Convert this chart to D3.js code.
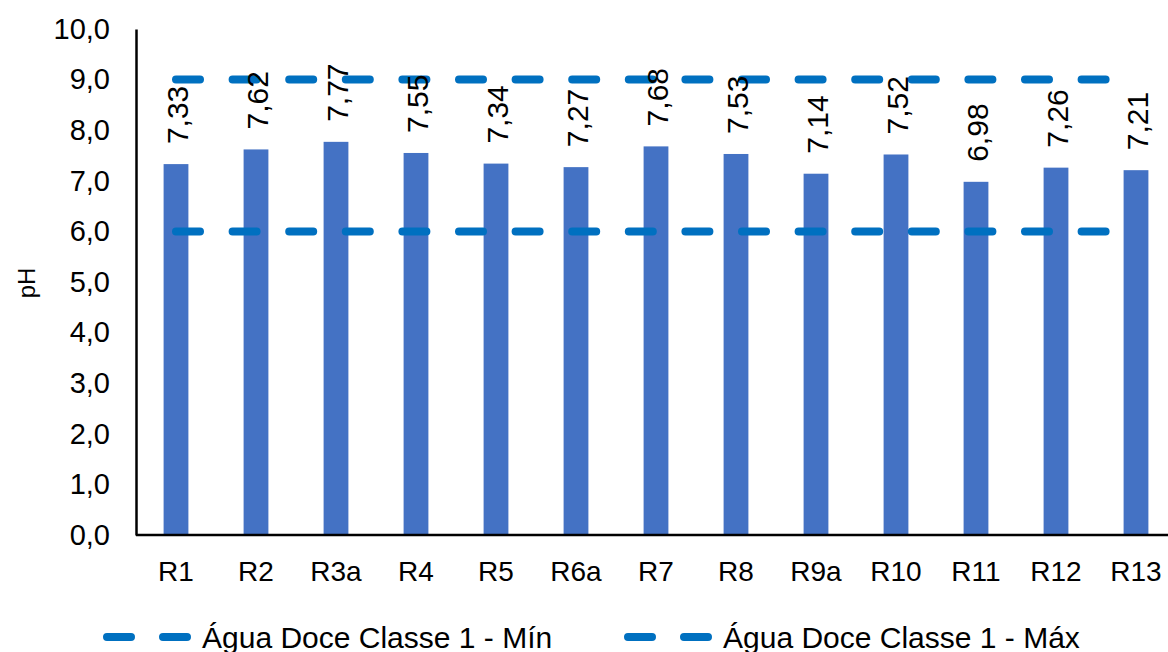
<!DOCTYPE html>
<html>
<head>
<meta charset="utf-8">
<script src="https://cdn.jsdelivr.net/npm/d3@7"></script>
<style>
    body { margin: 0; background: #fff; }
    text { font-family: "Liberation Sans", Arial, sans-serif; fill: #000; }
</style>
</head>
<body>
<div id="chart"></div>
<script>
var categories = ["R1", "R2", "R3a", "R4", "R5", "R6a", "R7", "R8", "R9a", "R10", "R11", "R12", "R13"];
var phValues = [7.33, 7.62, 7.77, 7.55, 7.34, 7.27, 7.68, 7.53, 7.14, 7.52, 6.98, 7.26, 7.21];
var limitMin = [6, 6, 6, 6, 6, 6, 6, 6, 6, 6, 6, 6, 6];
var limitMax = [9, 9, 9, 9, 9, 9, 9, 9, 9, 9, 9, 9, 9];
var yTicks = [0, 1, 2, 3, 4, 5, 6, 7, 8, 9, 10];
var legendLabels = ["Água Doce Classe 1 - Mín", "Água Doce Classe 1 - Máx"];

function init() {
    var w = 1168, h = 652;
    var left = 136, top = 29, bottom = 535;

    var svg = d3.select("#chart").append("svg")
        .attr("width", w)
        .attr("height", h);

    var xScale = d3.scaleBand()
        .domain(categories)
        .range([left, left + 80 * categories.length])
        .paddingInner(0.69)
        .paddingOuter(0.345);

    var yScale = d3.scaleLinear()
        .domain([0, 10])
        .range([bottom, top]);

    var fmt = function(v, d) { return v.toFixed(d).replace(".", ","); };
    var cx = function(c) { return xScale(c) + xScale.bandwidth() / 2; };

    // bars
    svg.append("g").selectAll("rect")
        .data(phValues)
        .enter().append("rect")
        .attr("x", function(d, i) { return xScale(categories[i]); })
        .attr("y", function(d) { return yScale(d); })
        .attr("width", xScale.bandwidth())
        .attr("height", function(d) { return yScale(0) - yScale(d); })
        .attr("fill", "#4472C4");

    // limit lines
    var line = d3.line()
        .x(function(d, i) { return cx(categories[i]); })
        .y(function(d) { return yScale(d); });

    [limitMin, limitMax].forEach(function(s) {
        svg.append("path")
            .datum(s)
            .attr("d", line)
            .attr("fill", "none")
            .attr("stroke", "#0070C0")
            .attr("stroke-width", 8)
            .attr("stroke-linecap", "round")
            .attr("stroke-dasharray", "24 32.6");
    });

    // axes
    var yAxis = d3.axisLeft(yScale)
        .tickValues(yTicks)
        .tickSize(0)
        .tickPadding(26)
        .tickFormat(function(d) { return fmt(d, 1); });
    var gy = svg.append("g")
        .attr("transform", "translate(" + left + ",0)")
        .call(yAxis);
    gy.select(".domain").attr("stroke", "#000").attr("stroke-width", 2.5);
    gy.selectAll("text").style("font-size", "29px").attr("fill", "#000");

    var xAxis = d3.axisBottom(xScale).tickSize(0).tickPadding(26);
    var gx = svg.append("g")
        .attr("transform", "translate(0," + bottom + ")")
        .call(xAxis);
    gx.select(".domain").attr("d", "M" + left + ",0H" + w).attr("stroke", "#000").attr("stroke-width", 2.5);
    gx.selectAll("text").style("font-size", "28px").attr("fill", "#000");

    // data labels
    svg.append("g").selectAll("text")
        .data(phValues)
        .enter().append("text")
        .attr("transform", function(d, i) {
            return "translate(" + (cx(categories[i]) + 1) + "," + (yScale(d) - 20) + ") rotate(-90)";
        })
        .attr("dy", "0.35em")
        .style("font-size", "30px")
        .text(function(d) { return fmt(d, 2); });

    // y title
    svg.append("text")
        .attr("transform", "translate(27,283) rotate(-90)")
        .attr("text-anchor", "middle")
        .attr("dy", "0.35em")
        .style("font-size", "24px")
        .text("pH");

    // legend
    var legendX = [107, 628];
    legendLabels.forEach(function(lab, i) {
        var g = svg.append("g").attr("transform", "translate(" + legendX[i] + ",637)");
        g.append("line")
            .attr("x1", 0).attr("x2", 80)
            .attr("stroke", "#0070C0")
            .attr("stroke-width", 8)
            .attr("stroke-linecap", "round")
            .attr("stroke-dasharray", "24 32");
        g.append("text")
            .attr("x", 95)
            .attr("dy", "0.35em")
            .style("font-size", "30px")
            .text(lab);
    });
}

window.onload = init;
</script>
</body>
</html>
